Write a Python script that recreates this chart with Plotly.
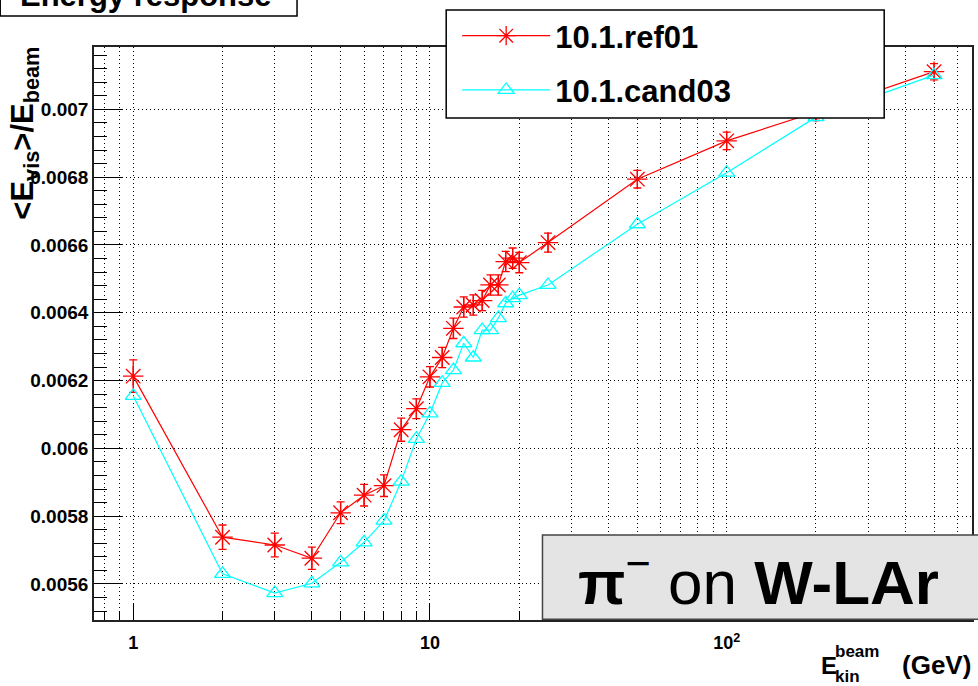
import plotly.graph_objects as go

# ---- data ----
energies = [1, 2, 3, 4, 5, 6, 7, 8, 9, 10, 11, 12, 13, 14, 15, 16, 17, 18, 19, 20, 25, 50, 100, 200, 500]

ref01 = [0.006213, 0.005738, 0.005715, 0.005676, 0.005810, 0.005862, 0.005890, 0.006055,
         0.006117, 0.006211, 0.006268, 0.006354, 0.006417, 0.006423, 0.006436, 0.006482,
         0.006482, 0.006551, 0.006561, 0.006548, 0.006607, 0.006794, 0.006907, 0.006992, 0.007111]
ref01_err = [0.000048, 0.000036, 0.000035, 0.000033, 0.000032, 0.000032, 0.000032, 0.000034,
             0.000029, 0.000030, 0.000030, 0.000030, 0.000030, 0.000030, 0.000030, 0.000030,
             0.000030, 0.000030, 0.000030, 0.000030, 0.000028, 0.000026, 0.000026, 0.000025, 0.000024]

cand03 = [0.006155, 0.005630, 0.005573, 0.005602, 0.005664, 0.005723, 0.005787, 0.005902,
          0.006028, 0.006103, 0.006193, 0.006231, 0.006310, 0.006268, 0.006349, 0.006349,
          0.006384, 0.006428, 0.006443, 0.006452, 0.006482, 0.006661, 0.006813, 0.006977, 0.007101]

series_names = ["10.1.ref01", "10.1.cand03"]

x_tickvals = [1, 10, 100]
x_ticktext = ["1", "10", "10<sup>2</sup>"]
x_minor = [0.8, 0.9, 2, 3, 4, 5, 6, 7, 8, 9, 20, 30, 40, 50, 60, 70, 80, 90,
           200, 300, 400, 500, 600]

y_tickvals = [0.0056, 0.0058, 0.0060, 0.0062, 0.0064, 0.0066, 0.0068, 0.0070]
y_ticktext = ["0.0056", "0.0058", "0.006", "0.0062", "0.0064", "0.0066", "0.0068", "0.007"]

# ---- geometry ----
W, H = 978, 686
ML, MR, MT, MB = 94, 4, 47, 66
PW, PH = W - ML - MR, H - MT - MB


def px(xp):
    return (xp - ML) / PW


def py(yp):
    return (H - MB - yp) / PH


FONT = "Liberation Sans, Arial, Helvetica, sans-serif"

fig = go.Figure()
fig.add_trace(go.Scatter(
    x=energies, y=ref01, name=series_names[0], mode="lines+markers",
    line=dict(color="#ff0000", width=1.2),
    marker=dict(symbol="asterisk-open", size=17, color="#ff0000",
                line=dict(color="#ff0000", width=1.3)),
    error_y=dict(type="data", array=ref01_err, visible=True, color="#ff0000",
                 thickness=1.3, width=4),
    legendgroup="a",
))
fig.add_trace(go.Scatter(
    x=energies, y=cand03, name=series_names[1], mode="lines+markers",
    line=dict(color="#00ffff", width=1.2),
    marker=dict(symbol="triangle-up-open", size=14, color="#00ffff",
                line=dict(color="#00ffff", width=1.3)),
    legendgroup="b",
))

grid_dash = "1px,3px"

fig.update_layout(
    width=W, height=H,
    margin=dict(l=ML, r=MR, t=MT, b=MB),
    paper_bgcolor="white", plot_bgcolor="white",
    font=dict(family=FONT, color="black"),
    showlegend=True,
    legend=dict(x=px(458), y=py(9), xanchor="left", yanchor="top",
                bgcolor="rgba(0,0,0,0)", borderwidth=0,
                font=dict(family=FONT, size=31, weight="bold", color="black"),
                itemwidth=88, tracegroupgap=11),
    xaxis=dict(
        type="log", range=[-0.1321, 2.8268],
        tickmode="array", tickvals=x_tickvals, ticktext=x_ticktext,
        ticks="inside", ticklen=17, tickwidth=1.3, tickcolor="black",
        tickfont=dict(family=FONT, size=18, weight="bold", color="black"),
        ticklabelstandoff=6,
        showgrid=True, gridcolor="black", gridwidth=1, griddash=grid_dash,
        minor=dict(tickmode="array", tickvals=x_minor, ticks="inside", ticklen=8,
                   tickwidth=1.3, tickcolor="black", showgrid=True,
                   gridcolor="black", gridwidth=1, griddash=grid_dash),
        showline=True, linecolor="#222", linewidth=1.6, mirror=True,
        zeroline=False,
    ),
    yaxis=dict(
        range=[0.0054938, 0.0071838],
        tickmode="array", tickvals=y_tickvals, ticktext=y_ticktext,
        ticks="inside", ticklen=28, tickwidth=1.3, tickcolor="black",
        tickfont=dict(family=FONT, size=19, weight="bold", color="black"),
        ticklabelstandoff=0,
        showgrid=True, gridcolor="black", gridwidth=1, griddash=grid_dash,
        minor=dict(dtick=0.00004, tick0=0.0056, ticks="inside", ticklen=13,
                   tickwidth=1.3, tickcolor="black", showgrid=False),
        showline=True, linecolor="#222", linewidth=1.6, mirror=True,
        zeroline=False,
    ),
)

shapes = [
    # title box (cut at the top of the page)
    dict(type="rect", xref="paper", yref="paper", x0=px(0), x1=px(297.5),
         y0=py(16), y1=py(-20), line=dict(color="black", width=1.5),
         fillcolor="white", layer="above"),
    # legend box
    dict(type="rect", xref="paper", yref="paper", x0=px(447), x1=px(886),
         y0=py(118), y1=py(10), line=dict(color="black", width=1.5),
         fillcolor="white", layer="above"),
    # label box
    dict(type="rect", xref="paper", yref="paper", x0=px(543.5), x1=px(990),
         y0=py(619.3), y1=py(535), line=dict(color="#444", width=1.5),
         fillcolor="#e4e4e4", layer="above"),
]
fig.update_layout(shapes=shapes)

annotations = [
    dict(text="Energy response", xref="paper", yref="paper", x=px(18), y=py(15),
         xanchor="left", yanchor="bottom", showarrow=False,
         font=dict(family=FONT, size=31, weight="bold", color="black")),
    dict(text="&lt;E<sub>vis</sub>&gt;/E<sub>beam</sub>", xref="paper", yref="paper",
         x=px(24), y=py(45), xanchor="center", yanchor="top", textangle=-90,
         showarrow=False, font=dict(family=FONT, size=31, weight="bold", color="black")),
    dict(text="<b>π</b><sup>−</sup> on <b>W-LAr</b>", xref="paper", yref="paper",
         x=px(760), y=py(578), xanchor="center", yanchor="middle", showarrow=False,
         font=dict(family=FONT, size=62, color="black")),
    dict(text="E", xref="paper", yref="paper", x=px(821), y=py(665),
         xanchor="left", yanchor="middle", showarrow=False,
         font=dict(family=FONT, size=24, weight="bold", color="black")),
    dict(text="beam", xref="paper", yref="paper", x=px(835), y=py(651),
         xanchor="left", yanchor="middle", showarrow=False,
         font=dict(family=FONT, size=17, weight="bold", color="black")),
    dict(text="kin", xref="paper", yref="paper", x=px(835), y=py(676),
         xanchor="left", yanchor="middle", showarrow=False,
         font=dict(family=FONT, size=17, weight="bold", color="black")),
    dict(text="(GeV)", xref="paper", yref="paper", x=px(975), y=py(665),
         xanchor="right", yanchor="middle", showarrow=False,
         font=dict(family=FONT, size=26, weight="bold", color="black")),
]
fig.update_layout(annotations=annotations)

fig.write_html("out.html", config={"displayModeBar": False},
               post_script="document.body.style.margin='0';document.body.style.overflow='hidden';")
